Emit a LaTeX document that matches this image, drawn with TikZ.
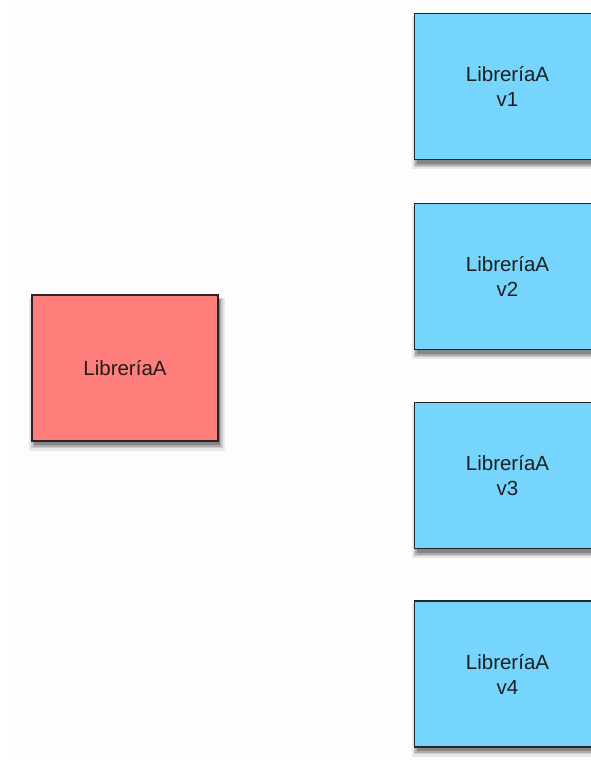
\documentclass[tikz,border=0pt]{standalone}
\usepackage{fontspec}
\setmainfont{Liberation Sans}
\usetikzlibrary{shadows}
\definecolor{bluefill}{HTML}{75D5FD}
\definecolor{redfill}{HTML}{FF7E7B}
\definecolor{bgc}{HTML}{FCFDFC}
\definecolor{txt}{HTML}{1E1E1E}
\begin{document}
\begin{tikzpicture}[x=1pt,y=-1pt,
  libbox/.style={draw=black!85, line width=1.3pt, minimum width=186pt, minimum height=146pt,
    inner sep=0pt, align=center, text=txt, font=\fontsize{20.5}{25}\selectfont,
    general shadow={fill=black, opacity=0.08, shadow xshift=2pt, shadow yshift=-6pt, shadow scale=1.05},
    general shadow={fill=black, opacity=0.12, shadow xshift=2pt, shadow yshift=-5pt, shadow scale=1.03},
    general shadow={fill=black, opacity=0.16, shadow xshift=2pt, shadow yshift=-5pt, shadow scale=1.015},
    general shadow={fill=black, opacity=0.22, shadow xshift=2pt, shadow yshift=-4pt}},
  bluebox/.style={libbox, fill=bluefill},
  redbox/.style={libbox, fill=redfill}]
\clip (0,0) rectangle (591,760);
\fill[white] (0,0) rectangle (591,760);
\fill[bgc] (10,6) rectangle (591,760);
\node[redbox] (main) at (125,368) {LibreríaA};
\node[bluebox] (v1) at (507.5,86.5) {LibreríaA\\v1};
\node[bluebox] (v2) at (507.5,276.5) {LibreríaA\\v2};
\node[bluebox] (v3) at (507.5,475.5) {LibreríaA\\v3};
\node[bluebox] (v4) at (507.5,674) {LibreríaA\\v4};
\end{tikzpicture}
\end{document}
